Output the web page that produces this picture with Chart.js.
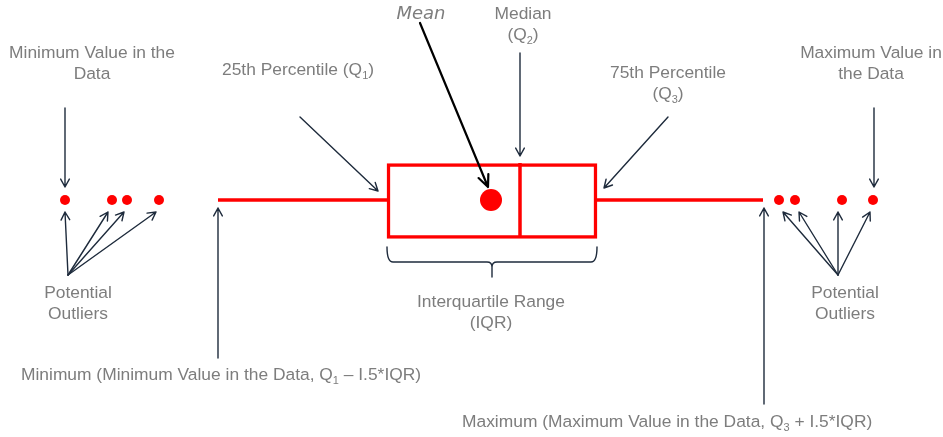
<!DOCTYPE html>
<html>
<head>
<meta charset="utf-8">
<script src="https://cdn.jsdelivr.net/npm/chart.js@4.4.1/dist/chart.umd.min.js"></script>
<style>
  html, body { margin: 0; padding: 0; background: #fff; }
</style>
</head>
<body>
<canvas id="chart" width="943" height="437"></canvas>
<script>
// ── Värden på värdeaxeln (skalan 0–943) ─────────────────────────────
const outliersLow  = [65, 112, 127, 159];
const whiskerLow   = 218;
const q1           = 387;
const meanValue    = 491;
const median       = 520;
const q3           = 597;
const whiskerHigh  = 763;
const outliersHigh = [779, 795, 842, 873];

// ── Layout / stil ───────────────────────────────────────────────────
const ROW        = 200;   // lådans rad på y-skalan
const BOX_HALF   = 37;
const RED        = '#ff0000';
const ARROW      = '#1e2b3c';
const TEXT_COL   = '#7d7d7d';
const FONT_SIZE  = 17.4;
const FONT_FAM   = '"Liberation Sans", Arial, sans-serif';

// Etiketter: x = mitt (eller vänsterkant om align 'left'), y = baslinje för första raden
const labels = [
  { x: 92,  y: 58, lines: ['Minimum Value in the', 'Data'] },
  { x: 298, y: 75, lines: ['25th Percentile (Q_1)'] },
  { x: 523, y: 19, lines: ['Median', '(Q_2)'] },
  { x: 668, y: 78, lines: ['75th Percentile', '(Q_3)'] },
  { x: 871, y: 58, lines: ['Maximum Value in', 'the Data'] },
  { x: 78,  y: 298, lines: ['Potential', 'Outliers'] },
  { x: 845, y: 298, lines: ['Potential', 'Outliers'] },
  { x: 491, y: 307, lines: ['Interquartile Range', '(IQR)'] },
  { x: 21,  y: 380, lines: ['Minimum (Minimum Value in the Data, Q_1 \u2013 I.5*IQR)'], align: 'left' },
  { x: 462, y: 427, lines: ['Maximum (Maximum Value in the Data, Q_3 + I.5*IQR)'], align: 'left' },
];

// Pilar: [fromX, fromY, toX, toY]
const arrows = [
  [65, 108, 65, 187],
  [300, 117, 378, 191],
  [520, 53, 520, 156],
  [668, 117, 604, 188],
  [874, 108, 874, 187],
  [68, 275, 65, 212], [68, 275, 108, 212], [68, 275, 124, 212], [68, 275, 156, 212],
  [838, 275, 783, 212], [838, 275, 799, 212], [838, 275, 838, 212], [838, 275, 870, 212],
  [218, 358, 218, 208],
  [764, 404, 764, 208],
];

function drawRich(ctx, str, x, y, align) {
  const parts = str.split(/_(\d)/);
  const mainFont = FONT_SIZE + 'px ' + FONT_FAM;
  const subFont  = '11px ' + FONT_FAM;
  let total = 0;
  parts.forEach((p, i) => { ctx.font = i % 2 ? subFont : mainFont; total += ctx.measureText(p).width; });
  let cx = align === 'left' ? x : x - total / 2;
  parts.forEach((p, i) => {
    ctx.font = i % 2 ? subFont : mainFont;
    ctx.fillText(p, cx, i % 2 ? y + 4 : y);
    cx += ctx.measureText(p).width;
  });
}

function drawArrow(ctx, x1, y1, x2, y2, head, spread) {
  const a = Math.atan2(y2 - y1, x2 - x1);
  ctx.beginPath();
  ctx.moveTo(x1, y1); ctx.lineTo(x2, y2);
  ctx.moveTo(x2 - head * Math.cos(a - spread), y2 - head * Math.sin(a - spread));
  ctx.lineTo(x2, y2);
  ctx.lineTo(x2 - head * Math.cos(a + spread), y2 - head * Math.sin(a + spread));
  ctx.stroke();
}

const annotations = {
  id: 'annotations',
  afterDatasetsDraw(chart) {
    const { ctx, scales: { x, y } } = chart;
    const px = v => x.getPixelForValue(v), py = v => y.getPixelForValue(v);
    ctx.save();
    ctx.lineCap = 'round';
    ctx.lineJoin = 'round';

    // navy pilar
    ctx.strokeStyle = ARROW; ctx.lineWidth = 1.4;
    arrows.forEach(([a, b, c, d]) => drawArrow(ctx, px(a), py(b), px(c), py(d), 9, 0.5));

    // medelvärdespil (svart, tjockare)
    ctx.strokeStyle = '#000'; ctx.lineWidth = 2.2;
    drawArrow(ctx, px(420), py(23), px(488), py(187), 13, 0.42);

    // klammer under lådan
    ctx.strokeStyle = ARROW; ctx.lineWidth = 1.4;
    const l = px(q1), r = px(q3), m = px(meanValue + 1), t = py(247), h = py(262), b = py(277);
    ctx.beginPath();
    ctx.moveTo(l, t); ctx.quadraticCurveTo(l, h, l + 6, h); ctx.lineTo(m - 5, h);
    ctx.quadraticCurveTo(m, h, m, h + 5); ctx.lineTo(m, b);
    ctx.moveTo(r, t); ctx.quadraticCurveTo(r, h, r - 6, h); ctx.lineTo(m + 5, h);
    ctx.quadraticCurveTo(m, h, m, h + 5);
    ctx.stroke();

    // texter
    ctx.fillStyle = TEXT_COL;
    ctx.textBaseline = 'alphabetic';
    ctx.textAlign = 'left';
    labels.forEach(lb => lb.lines.forEach((s, i) => drawRich(ctx, s, px(lb.x), py(lb.y + i * 21), lb.align)));

    ctx.font = 'italic 18px "DejaVu Sans", Verdana, sans-serif';
    ctx.textAlign = 'center';
    ctx.fillText('Mean', px(421), py(19));
    ctx.restore();
  }
};

const pts = vals => vals.map(v => ({ x: v, y: ROW }));

new Chart(document.getElementById('chart'), {
  type: 'scatter',
  data: {
    datasets: [
      { label: 'Mean', data: pts([meanValue]), pointRadius: 11, pointBackgroundColor: RED, pointBorderWidth: 0, order: 0 },
      { label: 'Outliers', data: pts([...outliersLow, ...outliersHigh]), pointRadius: 5, pointBackgroundColor: RED, pointBorderWidth: 0, order: 0 },
      { label: 'Median', data: [{ x: median, y: ROW - BOX_HALF }, { x: median, y: ROW + BOX_HALF }],
        showLine: true, borderColor: RED, borderWidth: 3.5, pointRadius: 0, order: 1 },
      { label: 'Lower whisker', data: pts([whiskerLow, q1]), showLine: true, borderColor: RED, borderWidth: 3.5, pointRadius: 0, order: 2 },
      { label: 'Upper whisker', data: pts([q3, whiskerHigh]), showLine: true, borderColor: RED, borderWidth: 3.5, pointRadius: 0, order: 2 },
      { type: 'bar', label: 'IQR', indexAxis: 'y', data: [{ x: [q1, q3], y: ROW + 1 }],
        barThickness: 2 * BOX_HALF + 1, backgroundColor: '#fff', borderColor: RED, borderWidth: 3.5,
        borderSkipped: false, order: 3 },
    ]
  },
  options: {
    responsive: false,
    animation: false,
    devicePixelRatio: 1,
    layout: { padding: 0, autoPadding: false },
    plugins: { legend: { display: false }, tooltip: { enabled: false } },
    scales: {
      x: { type: 'linear', min: 0, max: 943, offset: false, display: false },
      y: { type: 'linear', min: 0, max: 437, reverse: true, offset: false, display: false }
    }
  },
  plugins: [annotations]
});
</script>
</body>
</html>
